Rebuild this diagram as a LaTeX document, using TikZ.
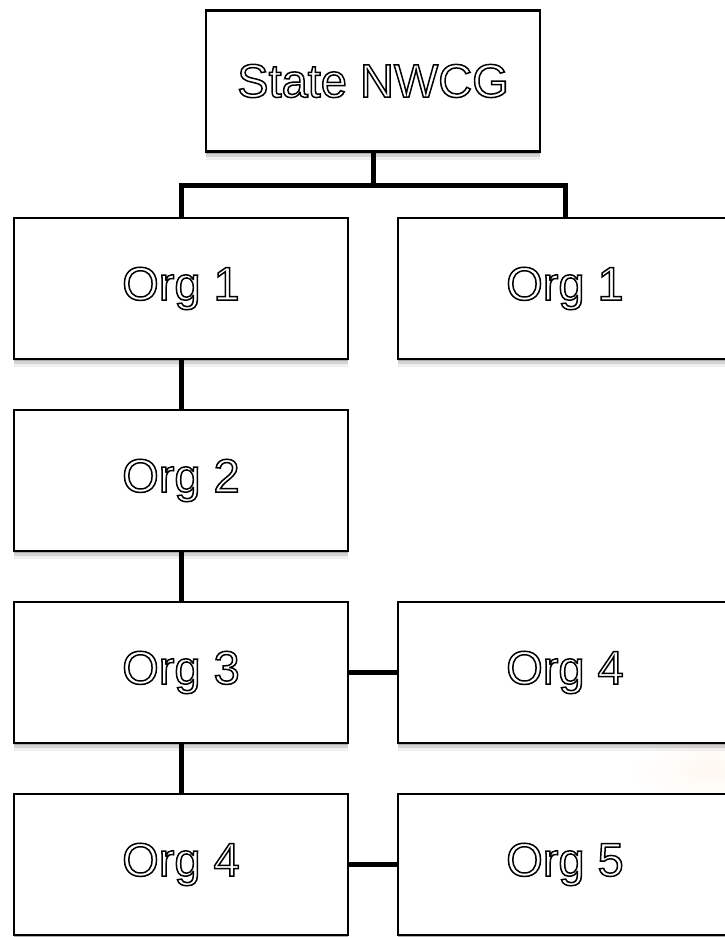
\documentclass[tikz,border=0pt]{standalone}
\usepackage{fontspec}
\setmainfont{Liberation Sans}
\usetikzlibrary{shadows}

% hollow lettering: glyphs stroked only (text render mode 1)
\newcommand{\hollow}[1]{%
  \special{pdf:literal direct 1 Tr 1.5 w}#1\special{pdf:literal direct 0 Tr}}

\begin{document}
\begin{tikzpicture}[x=1pt,y=-1pt]
  \tikzset{
    softshadow/.style={
      drop shadow={shadow xshift=0pt, shadow yshift=-2pt, opacity=.18, fill=black},
      drop shadow={shadow xshift=0pt, shadow yshift=-5pt, opacity=.12, fill=black},
      drop shadow={shadow xshift=0pt, shadow yshift=-8pt, opacity=.06, fill=black},
    },
    orgbox/.style={
      draw, line width=2.4pt, fill=white, softshadow,
      minimum width=334pt, minimum height=141pt, inner sep=0pt,
      text=black, font=\fontsize{47}{52}\selectfont
    },
    link/.style={line width=5pt},
  }
  \useasboundingbox (0,0) rectangle (725,937);
  \clip (0,0) rectangle (725,937);

  % faint warm glow behind the lower right boxes
  \shade[inner color=orange!8, outer color=white, opacity=.7]
    (710,770) ellipse (80 and 35);

  % boxes
  \node[orgbox] (nwcg) at (373,81) {\hollow{State NWCG}};
  \node[orgbox] (org1a) at (181,288.5) {\hollow{Org 1}};
  \node[orgbox] (org1b) at (565,288.5) {\hollow{Org 1}};
  \node[orgbox] (org2) at (181,480.5) {\hollow{Org 2}};
  \node[orgbox] (org3) at (181,672.5) {\hollow{Org 3}};
  \node[orgbox] (org4b) at (565,672.5) {\hollow{Org 4}};
  \node[orgbox] (org4a) at (181,864.5) {\hollow{Org 4}};
  \node[orgbox] (org5) at (565,864.5) {\hollow{Org 5}};

  % tree lines
  \coordinate (split) at (373,185);
  \draw[link] (nwcg.south) -- (split);
  \draw[link] (org1a.north) |- (split) -| (org1b.north);
  \foreach \a/\b in {org1a/org2,org2/org3,org3/org4a}
    \draw[link] (\a.south) -- (\b.north);
  \foreach \a/\b in {org3/org4b,org4a/org5}
    \draw[link] (\a.east) -- (\b.west);
\end{tikzpicture}
\end{document}
